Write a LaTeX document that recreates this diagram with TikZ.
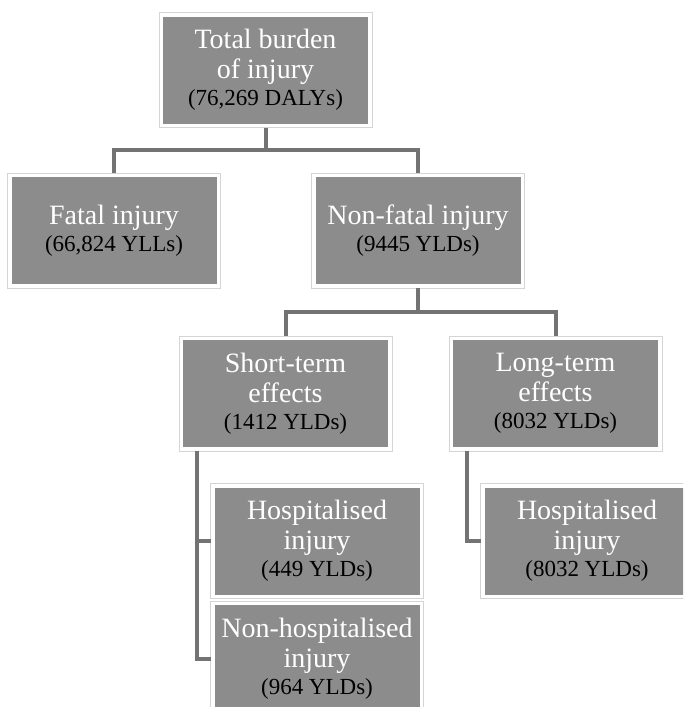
\documentclass[tikz,border=0pt]{standalone}
\usepackage{fontspec}
\setmainfont{Liberation Serif}
\definecolor{boxgray}{HTML}{8C8C8C}
\definecolor{linegray}{HTML}{737373}
\definecolor{framegray}{HTML}{D4D4D4}
\tikzset{
  box/.style={fill=boxgray, minimum width=205pt, minimum height=107pt,
    inner sep=0pt, outer sep=4pt, align=center, text=white,
    font=\fontsize{28}{30}\selectfont},
  conn/.style={draw=linegray, line width=4pt},
  frameline/.style={draw=framegray, line width=1pt},
}
\newcommand\numline[1]{\\[-3pt]{\color{black}\fontsize{23}{27}\selectfont #1}}
\begin{document}
\begin{tikzpicture}[x=1pt,y=-1pt]
\path[use as bounding box] (0,0) rectangle (683,707);
\clip (0,0) rectangle (683,707);
\node[box] (top) at (265.5,70) {Total burden\\of injury\numline{(76,269 DALYs)}};
\node[box] (fatal) at (114,230.5) {Fatal injury\numline{(66,824 YLLs)}};
\node[box] (nonfatal) at (418,230.5) {Non-fatal injury\numline{(9445 YLDs)}};
\node[box] (short) at (285.5,393.5) {Short-term\\effects\numline{(1412 YLDs)}};
\node[box] (long) at (555.5,393.5) {Long-term\\effects\numline{(8032 YLDs)}};
\node[box] (hosp1) at (317,541) {Hospitalised\\injury\numline{(449 YLDs)}};
\node[box] (nonhosp) at (317,658.5) {Non-hospitalised\\injury\numline{(964 YLDs)}};
\node[box] (hosp2) at (587,541) {Hospitalised\\injury\numline{(8032 YLDs)}};
\foreach \n in {top,fatal,nonfatal,short,long,hosp1,nonhosp,hosp2}
  \draw[frameline] (\n.north west) rectangle (\n.south east);
\coordinate (j1) at (266,150);
\coordinate (j2) at (419,312);
\draw[conn] (top.south) -- (top.south |- j1);
\draw[conn] (fatal.north) -- (fatal.north |- j1) -- (nonfatal.north |- j1) -- (nonfatal.north);
\draw[conn] (nonfatal.south) -- (nonfatal.south |- j2);
\draw[conn] (short.north) -- (short.north |- j2) -- (long.north |- j2) -- (long.north);
\draw[conn] ([xshift=18pt]short.south west) |- (nonhosp.west);
\draw[conn] ([xshift=18pt]short.south west |- hosp1.west) -- (hosp1.west);
\draw[conn] ([xshift=18pt]long.south west) |- (hosp2.west);
\end{tikzpicture}
\end{document}
